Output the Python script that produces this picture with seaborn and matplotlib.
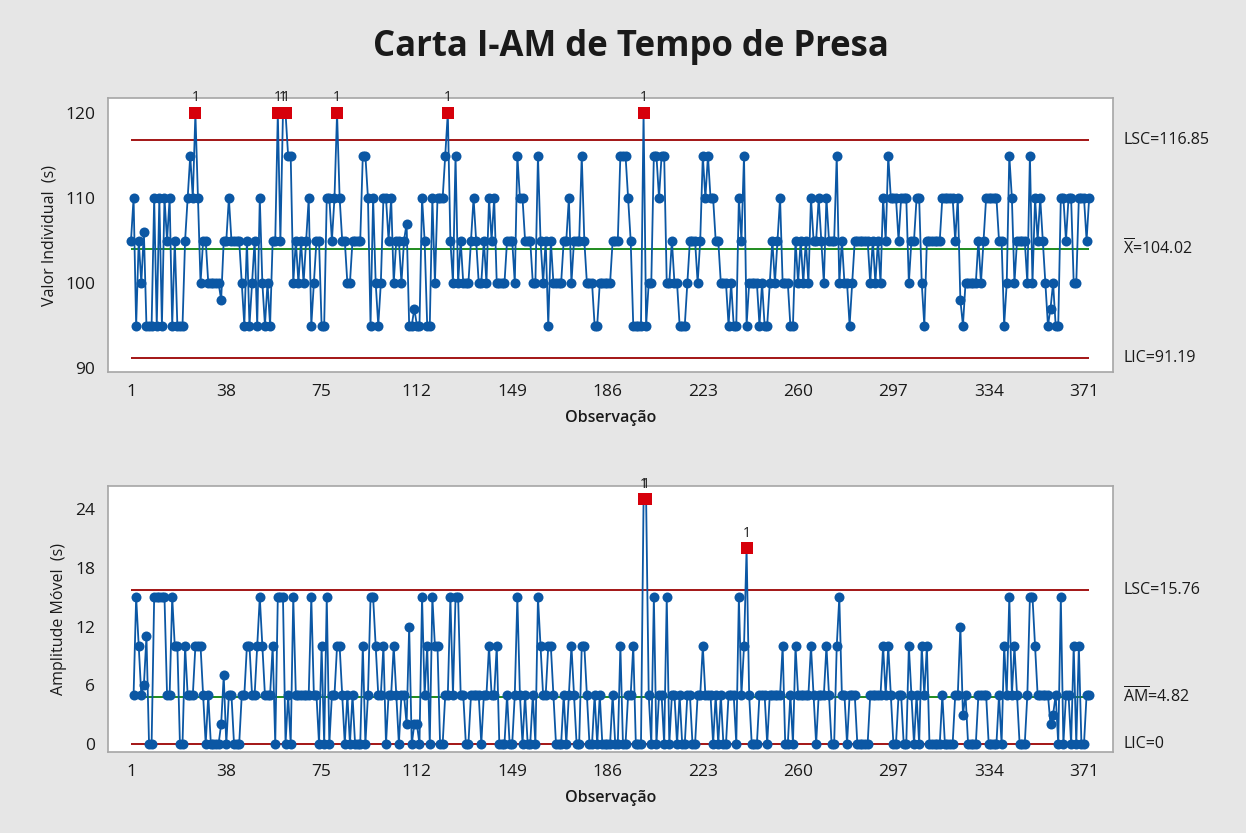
import numpy as np
import pandas as pd
import matplotlib
matplotlib.use("Agg")
import matplotlib.pyplot as plt
import seaborn as sns

# ---------------- data ----------------
vals_001_046 = [105, 110, 95, 105, 100, 106, 95, 95, 95, 110, 95, 110, 95, 110, 105, 110, 95, 105, 95, 95,
                95, 105, 110, 115, 110, 120, 110, 100, 105, 105, 100, 100, 100, 100, 100, 98, 105, 105, 110, 105,
                105, 105, 105, 100, 95, 105]
vals_047_095 = [95, 100, 105, 95, 110, 100, 95, 100, 95, 105, 105, 120, 105, 120, 120, 115, 115, 100, 105, 100,
                105, 100, 105, 110, 95, 100, 105, 105, 95, 95, 110, 110, 105, 110, 120, 110, 105, 105, 100, 100,
                105, 105, 105, 105, 115, 115, 110, 95, 110]
vals_096_143 = [100, 95, 100, 110, 110, 105, 110, 100, 105, 105, 100, 105, 107, 95, 95, 97, 95, 95, 110, 105,
                95, 95, 110, 100, 110, 110, 110, 115, 120, 105, 100, 115, 100, 105, 100, 100, 100, 105, 110, 105,
                100, 100, 105, 100, 110, 105, 110, 100]
vals_144_192 = [100, 100, 100, 105, 105, 105, 100, 115, 110, 110, 105, 105, 105, 100, 100, 115, 105, 100, 105, 95,
                105, 100, 100, 100, 100, 105, 105, 110, 100, 105, 105, 105, 115, 105, 100, 100, 100, 95, 95, 100,
                100, 100, 100, 100, 105, 105, 105, 115, 115]
vals_193_239 = [115, 110, 105, 95, 95, 95, 95, 120, 95, 100, 100, 115, 115, 110, 115, 115, 100, 100, 105, 100,
                100, 95, 95, 95, 100, 105, 105, 105, 100, 105, 115, 110, 115, 110, 110, 105, 105, 100, 100, 100,
                95, 100, 95, 95, 110, 105, 115]
vals_240_288 = [95, 100, 100, 100, 100, 95, 100, 95, 95, 100, 105, 100, 105, 110, 100, 100, 100, 95, 95, 105,
                100, 105, 100, 105, 100, 110, 105, 105, 110, 105, 100, 110, 105, 105, 105, 115, 100, 105, 100, 100,
                95, 100, 105, 105, 105, 105, 105, 105, 100]
vals_289_336 = [105, 100, 105, 100, 110, 105, 115, 110, 110, 110, 105, 110, 110, 110, 100, 105, 105, 110, 110, 100,
                95, 105, 105, 105, 105, 105, 105, 110, 110, 110, 110, 110, 105, 110, 98, 95, 100, 100, 100, 100,
                100, 105, 100, 105, 110, 110, 110, 110]
vals_337_373 = [110, 105, 105, 95, 100, 115, 110, 100, 105, 105, 105, 105, 100, 115, 100, 110, 105, 110, 105, 100,
                95, 97, 100, 95, 95, 110, 110, 105, 110, 110, 100, 100, 110, 110, 110, 105, 110]

values = (vals_001_046 + vals_047_095 + vals_096_143 + vals_144_192 +
          vals_193_239 + vals_240_288 + vals_289_336 + vals_337_373)
observations = list(range(1, len(values) + 1))

x_ticks = [1, 38, 75, 112, 149, 186, 223, 260, 297, 334, 371]
i_ticks = [90, 100, 110, 120]
mr_ticks = [0, 6, 12, 18, 24]

UCL_I, CL_I, LCL_I = 116.85, 104.02, 91.19
UCL_MR, CL_MR, LCL_MR = 15.76, 4.82, 0.0

title = "Carta I-AM de Tempo de Presa"
xlabel = "Observação"
ylabel_i = "Valor Individual  (s)"
ylabel_mr = "Amplitude Móvel  (s)"

# ---------------- style ----------------
sns.set_theme(style="white")
FONT = "Open Sans"
plt.rcParams["font.family"] = [FONT, "DejaVu Sans"]
plt.rcParams["mathtext.fontset"] = "custom"
plt.rcParams["mathtext.rm"] = FONT
plt.rcParams["mathtext.it"] = FONT

BG = "#e6e6e6"
BLUE = "#0b57a4"
RED = "#d6000b"
DARKRED = "#a31515"
GREEN = "#1f8c1f"
SPINE = "#a6a6a6"
TXT = "#1a1a1a"

W, H = 1246, 833
fig = plt.figure(figsize=(W / 100, H / 100), dpi=100, facecolor=BG)

def axes_px(l, t, r, b):
    return fig.add_axes([l / W, 1 - b / H, (r - l) / W, (b - t) / H])

ax1 = axes_px(108, 98, 1113, 372)
ax2 = axes_px(108, 486, 1113, 752)

df = pd.DataFrame({"obs": observations, "val": values})
mr = np.abs(np.diff(np.array(values, dtype=float)))
df_mr = pd.DataFrame({"obs": observations[1:], "mr": mr})

n = len(values)


def draw(ax, data, ycol, ucl, cl, lcl, ylim, yticks, ylabel, labels):
    ax.set_facecolor("white")
    ax.hlines(ucl, 1, n, color=DARKRED, lw=1.4, zorder=1)
    ax.hlines(lcl, 1, n, color=DARKRED, lw=1.4, zorder=1)
    ax.hlines(cl, 1, n, color=GREEN, lw=1.4, zorder=1)
    sns.lineplot(data=data, x="obs", y=ycol, ax=ax, color=BLUE, lw=1.3,
                 marker="o", markersize=7.2, markeredgecolor=BLUE,
                 markeredgewidth=0, zorder=3, estimator=None)
    out = data[data[ycol] > ucl]
    sns.scatterplot(data=out, x="obs", y=ycol, ax=ax, marker="s", s=75,
                    color=RED, edgecolor=RED, linewidth=0, zorder=4)
    for _, r in out.iterrows():
        ax.annotate("1", (r["obs"], r[ycol]), xytext=(0, 5.5), textcoords="offset points",
                    ha="center", va="bottom", fontsize=10, color=TXT, annotation_clip=False)
    ax.set_xlim(-7.93, 382.26)
    ax.set_ylim(*ylim)
    ax.set_xticks(x_ticks)
    ax.set_yticks(yticks)
    ax.tick_params(axis="both", direction="out", length=6, width=1, color=SPINE,
                   labelsize=12.5, labelcolor=TXT, pad=3)
    for s in ax.spines.values():
        s.set_color(SPINE)
        s.set_linewidth(1.2)
    ax.set_xlabel(xlabel, fontsize=11.5, fontweight="semibold", color=TXT, labelpad=7)
    ax.set_ylabel(ylabel, fontsize=11.5, color=TXT, labelpad=6)
    tr = ax.get_yaxis_transform()
    for yv, txt in labels:
        ax.text(1.010, yv, txt, transform=tr, ha="left", va="center",
                fontsize=11.5, color=TXT, clip_on=False)


draw(ax1, df, "val", UCL_I, CL_I, LCL_I, (89.53, 121.77), i_ticks, ylabel_i,
     [(UCL_I, "LSC=116.85"), (CL_I, r"$\overline{\mathrm{X}}$=104.02"), (LCL_I, "LIC=91.19")])
draw(ax2, df_mr, "mr", UCL_MR, CL_MR, LCL_MR, (-0.82, 26.36), mr_ticks, ylabel_mr,
     [(UCL_MR, "LSC=15.76"), (CL_MR, r"$\overline{\mathrm{AM}}$=4.82"), (LCL_MR, "LIC=0")])

fig.text(631 / W, 1 - 47 / H, title, ha="center", va="center", fontsize=25,
         fontweight="bold", color=TXT)

fig.savefig("out.png", dpi=100, facecolor=BG)
